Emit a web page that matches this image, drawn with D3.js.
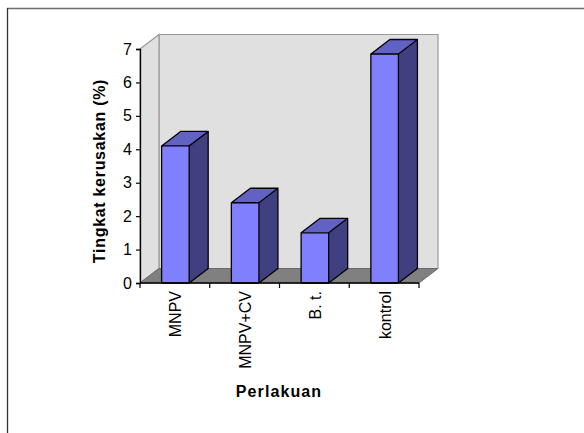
<!DOCTYPE html>
<html>
<head>
<meta charset="utf-8">
<script src="https://cdn.jsdelivr.net/npm/d3@7"></script>
<style>
  html, body { margin: 0; padding: 0; background: #fff; }
  svg { display: block; font-family: Arial, "Liberation Sans", sans-serif; }
</style>
</head>
<body>
<svg id="chart" width="584" height="433"></svg>
<script>
// Damage level per treatment
const categories = ["MNPV", "MNPV+CV", "B. t.", "kontrol"];
const damage = [4.1, 2.4, 1.5, 6.85];
const yTicks = [0, 1, 2, 3, 4, 5, 6, 7];

const svg = d3.select("#chart");

// Front plane of the 3D box and the depth offset to the back wall
const front = { left: 140, right: 419, top: 49, bottom: 283 };
const depth = { dx: 19, dy: -14.5 };

const y = d3.scaleLinear().domain([0, 7]).range([front.bottom, front.top]);
const x = d3.scaleBand().domain(categories).range([front.left, front.right]).padding(0);

// Chart area border (top and left edges visible)
svg.append("line").attr("x1", 7).attr("y1", 8.5).attr("x2", 584).attr("y2", 8.5)
  .attr("stroke", "#6e6e6e").attr("stroke-width", 1.3);
svg.append("line").attr("x1", 7.5).attr("y1", 8).attr("x2", 7.5).attr("y2", 433)
  .attr("stroke", "#333").attr("stroke-width", 1.3);

const wallFill = "#e0e0e0", wallStroke = "#9a9a9a";
const poly = pts => "M" + pts.map(p => p.join(",")).join("L") + "Z";

// Back wall
svg.append("path")
  .attr("d", poly([
    [front.left + depth.dx, y(7) + depth.dy],
    [front.right + depth.dx, y(7) + depth.dy],
    [front.right + depth.dx, y(0) + depth.dy],
    [front.left + depth.dx, y(0) + depth.dy]
  ]))
  .attr("fill", wallFill).attr("stroke", wallStroke).attr("stroke-width", 1.2);

// Side wall
svg.append("path")
  .attr("d", poly([
    [front.left, y(7)],
    [front.left + depth.dx, y(7) + depth.dy],
    [front.left + depth.dx, y(0) + depth.dy],
    [front.left, y(0)]
  ]))
  .attr("fill", wallFill).attr("stroke", wallStroke).attr("stroke-width", 1.2);

// Floor
svg.append("path")
  .attr("d", poly([
    [front.left, y(0)],
    [front.right, y(0)],
    [front.right + depth.dx, y(0) + depth.dy],
    [front.left + depth.dx, y(0) + depth.dy]
  ]))
  .attr("fill", "#808080").attr("stroke", "#6a6a6a").attr("stroke-width", 1);

// 3D columns
const barW = x.bandwidth() * 0.395;
const barOff = x.bandwidth() * 0.31;
const bars = svg.append("g").selectAll("g").data(categories).join("g");
bars.each(function (c, i) {
  const g = d3.select(this);
  const x0 = x(c) + barOff, x1 = x0 + barW;
  const yt = y(damage[i]), yb = y(0);
  // side face
  g.append("path").attr("d", poly([
    [x1, yt], [x1 + depth.dx, yt + depth.dy], [x1 + depth.dx, yb + depth.dy], [x1, yb]
  ])).attr("fill", "#404080");
  // top face
  g.append("path").attr("d", poly([
    [x0, yt], [x0 + depth.dx, yt + depth.dy], [x1 + depth.dx, yt + depth.dy], [x1, yt]
  ])).attr("fill", "#6262c4");
  // front face
  g.append("rect").attr("x", x0).attr("y", yt).attr("width", barW).attr("height", yb - yt)
    .attr("fill", "#8080ff");
  // outlines
  g.append("path").attr("d", poly([
    [x0, yb], [x0, yt], [x0 + depth.dx, yt + depth.dy], [x1 + depth.dx, yt + depth.dy],
    [x1 + depth.dx, yb + depth.dy], [x1, yb]
  ])).attr("fill", "none").attr("stroke", "#000").attr("stroke-width", 1.3)
    .attr("stroke-linejoin", "round");
  g.append("path").attr("d", `M${x1},${yb}L${x1},${yt}L${x1 + depth.dx},${yt + depth.dy}M${x0},${yt}L${x1},${yt}`)
    .attr("fill", "none").attr("stroke", "#000").attr("stroke-width", 1.3);
});

// Y axis
const yAxis = svg.append("g").attr("transform", `translate(${front.left},0)`)
  .call(d3.axisLeft(y).tickValues(yTicks).tickSize(4).tickPadding(4).tickFormat(d3.format("d")));
yAxis.select(".domain").attr("stroke", "#000").attr("stroke-width", 1.3);
yAxis.selectAll(".tick line").attr("stroke", "#000").attr("stroke-width", 1.2);
yAxis.selectAll(".tick text").attr("font-size", 16).attr("font-family", "Arial, 'Liberation Sans', sans-serif")
  .attr("fill", "#000");

// X axis with tick marks at category boundaries
const xAxisG = svg.append("g").attr("transform", `translate(0,${front.bottom})`);
xAxisG.append("line").attr("x1", front.left).attr("x2", front.right).attr("y1", 0).attr("y2", 0)
  .attr("stroke", "#000").attr("stroke-width", 1.3);
const bounds = categories.map(c => x(c)).concat([front.right]);
xAxisG.selectAll("line.tk").data(bounds).join("line").attr("class", "tk")
  .attr("x1", d => d).attr("x2", d => d).attr("y1", 0).attr("y2", 5)
  .attr("stroke", "#000").attr("stroke-width", 1.2);
xAxisG.selectAll("text").data(categories).join("text")
  .attr("transform", d => `translate(${x(d) + x.bandwidth() / 2 + 1},8) rotate(-90)`)
  .attr("text-anchor", "end").attr("dy", "0.35em")
  .attr("font-size", 16).attr("fill", "#000")
  .text(d => d);

// Axis titles
svg.append("text")
  .attr("transform", "translate(99,171) rotate(-90)")
  .attr("text-anchor", "middle").attr("dy", "0.35em")
  .attr("font-size", 16).attr("font-weight", "bold").attr("letter-spacing", 0.7)
  .text("Tingkat kerusakan (%)");
svg.append("text")
  .attr("x", 279).attr("y", 397)
  .attr("text-anchor", "middle")
  .attr("font-size", 16).attr("font-weight", "bold").attr("letter-spacing", 1.1)
  .text("Perlakuan");
</script>
</body>
</html>
